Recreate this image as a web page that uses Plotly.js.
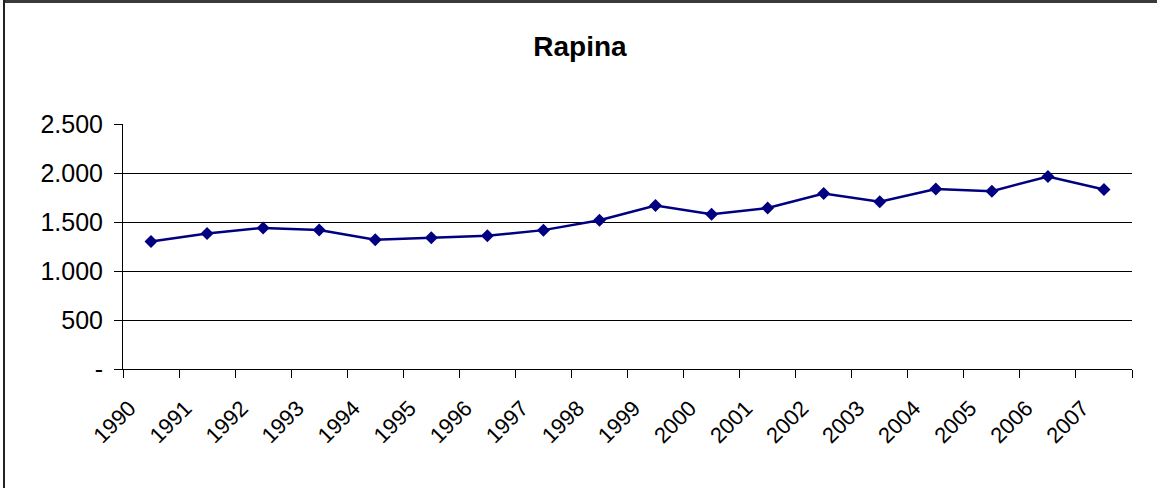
<!DOCTYPE html>
<html>
<head>
<meta charset="utf-8">
<script src="https://cdn.plot.ly/plotly-3.0.1.min.js"></script>
<style>
  html, body { margin: 0; padding: 0; background: #fff; }
  #wrap { position: relative; width: 1160px; height: 488px; overflow: hidden; }
  #chart { position: absolute; left: 0; top: 0; width: 1160px; height: 488px; }
  #bt { position: absolute; left: 3px; top: 0; width: 1154px; height: 3px; background: #3a3a3a; }
  #bl { position: absolute; left: 3px; top: 0; width: 2px; height: 488px; background: #222; }
</style>
</head>
<body>
<div id="wrap">
  <div id="chart"></div>
  <div id="bt"></div>
  <div id="bl"></div>
</div>
<script>
const years = ["1990","1991","1992","1993","1994","1995","1996","1997","1998","1999","2000","2001","2002","2003","2004","2005","2006","2007"];
const rapina = [1302,1383,1440,1419,1319,1339,1359,1417,1517,1668,1580,1643,1790,1706,1836,1815,1965,1832];
const yTickVals = [0,500,1000,1500,2000,2500];
const yTickText = ["-","500","1.000","1.500","2.000","2.500"];
const chartTitle = "Rapina";

const font = "Liberation Sans, Arial, sans-serif";
// trailing non-breaking spaces nudge the rotated year labels along their baseline
const yearLabels = years.map(y => y + "\u00a0\u00a0\u00a0\u00a0\u00a0");

Plotly.newPlot("chart", [{
  type: "scatter",
  mode: "lines+markers",
  x: years,
  y: rapina,
  line: { color: "#000080", width: 2.5 },
  marker: { symbol: "diamond", size: 10, color: "#000080" },
  hoverinfo: "x+y"
}], {
  width: 1160,
  height: 488,
  margin: { l: 123, r: 28, t: 124, b: 119, pad: 0 },
  paper_bgcolor: "#fff",
  plot_bgcolor: "#fff",
  showlegend: false,
  title: { text: "<b>" + chartTitle + "</b>", font: { family: font, size: 28, color: "#000" }, x: 0.5, xanchor: "center", y: 0.905, yanchor: "middle" },
  xaxis: {
    type: "category",
    range: [-0.5, years.length - 0.5],
    tickmode: "array",
    tickvals: years,
    ticktext: yearLabels,
    tickson: "boundaries",
    ticks: "outside",
    ticklen: 8,
    tickcolor: "#000",
    tickwidth: 1,
    showline: true,
    linecolor: "#000",
    linewidth: 1,
    showgrid: false,
    tickangle: -45,
    ticklabelstandoff: -5,
    tickfont: { family: font, size: 22, color: "#000" },
    fixedrange: true
  },
  yaxis: {
    range: [0, 2500],
    tickmode: "array",
    tickvals: yTickVals,
    ticktext: yTickText,
    ticks: "outside",
    ticklen: 8,
    tickcolor: "#000",
    showline: true,
    linecolor: "#000",
    linewidth: 1,
    showgrid: true,
    gridcolor: "#000",
    gridwidth: 1,
    zeroline: false,
    ticklabelstandoff: 6,
    tickfont: { family: font, size: 25, color: "#000" },
    fixedrange: true
  }
}, { displayModeBar: false, staticPlot: true });
</script>
</body>
</html>
